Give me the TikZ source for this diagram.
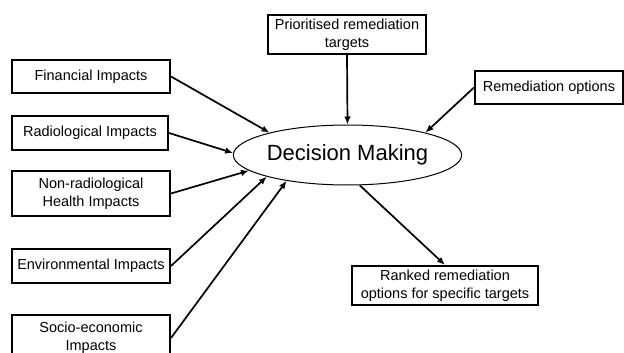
\documentclass[tikz,border=0pt]{standalone}
\usepackage{fontspec}
\setmainfont{Liberation Sans}
\usetikzlibrary{arrows.meta,shapes.geometric}
\begin{document}
\begin{tikzpicture}[x=1pt,y=-1pt,
  box/.style={draw,line width=2pt,inner sep=0pt,align=center,font=\fontsize{14.5}{18}\selectfont},
  arr/.style={line width=1.7pt,-{Latex[length=8pt,width=6.5pt]}}]
\useasboundingbox (0,0) rectangle (624,353);
\node[draw,ellipse,line width=1pt,minimum width=225pt,minimum height=60pt,inner sep=0pt,font=\fontsize{22}{26}\selectfont] (dm) at (347.5,155) {Decision Making};
\node[box,minimum width=158pt,minimum height=33pt] (fin) at (91,76.5) {Financial Impacts};
\node[box,minimum width=156pt,minimum height=34pt] (rad) at (90,133) {Radiological Impacts};
\node[box,minimum width=158pt,minimum height=45pt] (nonrad) at (91,193.5) {Non-radiological\\Health Impacts};
\node[box,minimum width=158pt,minimum height=34pt] (env) at (91,266) {Environmental Impacts};
\node[box,minimum width=158pt,minimum height=46pt] (socio) at (91,338) {Socio-economic\\Impacts};
\node[box,minimum width=158pt,minimum height=39pt] (prio) at (347,34.5) {Prioritised remediation\\targets};
\node[box,minimum width=148pt,minimum height=33pt] (remed) at (549,87.5) {Remediation options};
\node[box,minimum width=186pt,minimum height=39pt] (ranked) at (445,285.5) {Ranked remediation\\options for specific targets};
\draw[arr] (prio.south) -- (dm.90);
\draw[arr] (remed.west) -- (dm.16);
\draw[arr] (dm.292.6) -- (ranked.north);
\draw[arr] (fin.east) -- (dm.164);
\draw[arr] (rad.east) -- (dm.179);
\draw[arr] (nonrad.east) -- (dm.189);
\draw[arr] (env.east) -- (dm.195);
\draw[arr] (socio.east) -- (dm.203.5);
\end{tikzpicture}
\end{document}
